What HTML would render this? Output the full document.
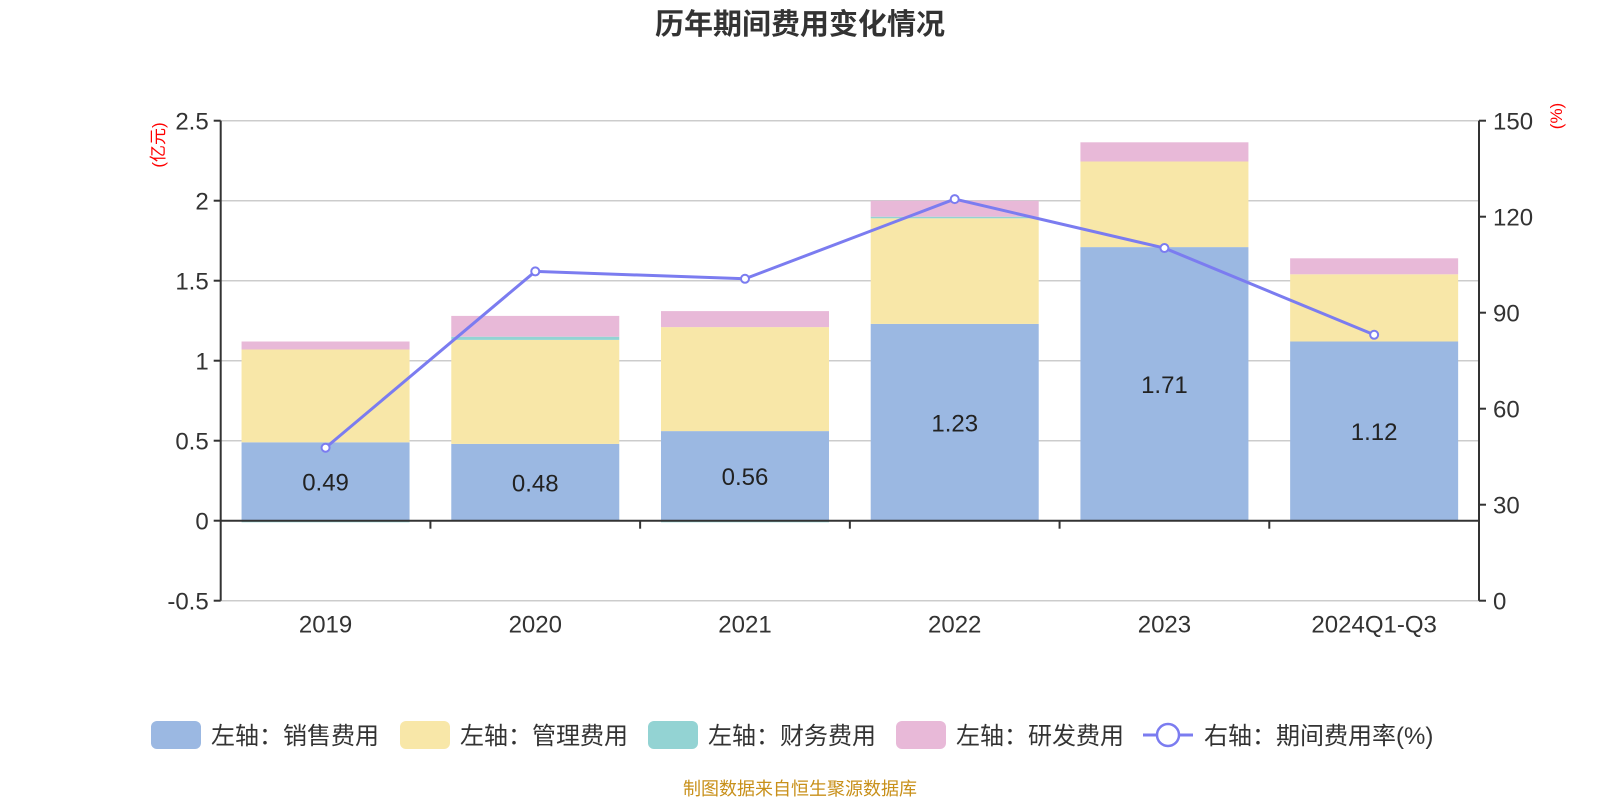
<!DOCTYPE html>
<html><head><meta charset="utf-8"><style>
body{margin:0;background:#fff;width:1600px;height:800px;overflow:hidden;font-family:"Liberation Sans","Noto Sans CJK SC",sans-serif}
svg text{font-family:"Liberation Sans","Noto Sans CJK SC",sans-serif}
</style></head><body>
<svg id="c" width="1600" height="800"></svg>
<script>
const categories=["2019","2020","2021","2022","2023","2024Q1-Q3"];
const sales=[0.49,0.48,0.56,1.23,1.71,1.12];
const admin=[0.58,0.65,0.65,0.66,0.535,0.42];
const finance=[-0.01,0.02,-0.01,0.01,0.0,0.0];
const rnd=[0.05,0.13,0.10,0.10,0.12,0.10];
const rate=[47.8,102.9,100.6,125.5,110.2,83.1];
const leftTicks=[-0.5,0,0.5,1,1.5,2,2.5];
const rightTicks=[0,30,60,90,120,150];

const NS="http://www.w3.org/2000/svg";
const svg=document.getElementById('c');
function el(t,a,txt){const e=document.createElementNS(NS,t);for(const k in a)e.setAttribute(k,a[k]);if(txt!==undefined)e.textContent=txt;svg.appendChild(e);return e;}
const X0=220.7,X1=1479,YT=120.7,YB=600.7;
const cw=(X1-X0)/categories.length;
const yL=v=>YT+(2.5-v)/3*(YB-YT);
const yR=v=>YB-v/150*(YB-YT);
const xc=i=>X0+cw*(i+0.5);

let t=el('text',{x:800,y:34,'text-anchor':'middle','font-size':29,'font-weight':'bold',fill:'#333'},'历年期间费用变化情况');



leftTicks.forEach(v=>{
  const g=el('line',{x1:X0,x2:X1,y1:yL(v),y2:yL(v),stroke:'#ccc','stroke-width':1.5});
  
  
  el('line',{x1:X0-7,x2:X0,y1:yL(v),y2:yL(v),stroke:'#333','stroke-width':2});
  const l=el('text',{x:X0-12,y:yL(v)+9,'text-anchor':'end','font-size':24,fill:'#333'},String(v));
  
  
});
rightTicks.forEach(v=>{
  el('line',{x1:X1,x2:X1+7,y1:yR(v),y2:yR(v),stroke:'#333','stroke-width':2});
  const l=el('text',{x:X1+14,y:yR(v)+9,'font-size':24,fill:'#333'},String(v));
  
  
});

const colors=['#9bb8e2','#f8e7a8','#93d3d3','#e8b9d8'];
const series=[sales,admin,finance,rnd];
categories.forEach((c,i)=>{
  let pos=0,neg=0;const bw=168,bx=xc(i)-bw/2;
  series.forEach((s,k)=>{
    const v=s[i];let a,b;
    if(v>=0){a=pos;b=pos+v;pos=b;}else{a=neg;b=neg+v;neg=b;}
    const r=el('rect',{x:bx,y:Math.min(yL(a),yL(b)),width:bw,height:Math.max(Math.abs(yL(a)-yL(b)),v!==0?1.5:0),fill:colors[k]});
    
    
  });
  const lb=el('text',{x:xc(i),y:(yL(0)+yL(sales[i]))/2+9,'text-anchor':'middle','font-size':24,fill:'#222'},sales[i].toFixed(2));
  
  
  const xl=el('text',{x:xc(i),y:YB+32,'text-anchor':'middle','font-size':24,fill:'#333'},c);
  
  
});
for(let i=1;i<categories.length;i++){el('line',{x1:X0+cw*i,x2:X0+cw*i,y1:yL(0),y2:yL(0)+8,stroke:'#333','stroke-width':2});}
let ax=el('line',{x1:X0,x2:X1,y1:yL(0),y2:yL(0),stroke:'#333','stroke-width':2});


el('line',{x1:X0,x2:X0,y1:YT,y2:YB,stroke:'#333','stroke-width':2});
el('line',{x1:X1,x2:X1,y1:YT,y2:YB,stroke:'#333','stroke-width':2});

const pl=el('polyline',{points:rate.map((v,i)=>xc(i)+','+yR(v)).join(' '),fill:'none',stroke:'#7b7cf0','stroke-width':3});


rate.forEach((v,i)=>{
  const p=el('circle',{cx:xc(i),cy:yR(v),r:4,fill:'#fff',stroke:'#7b7cf0','stroke-width':2});
  
  
});

let u=el('text',{transform:'translate(164,145) rotate(-90)','text-anchor':'middle','font-size':17,fill:'#f00'},'(亿元)');


u=el('text',{transform:'translate(1562,116) rotate(-90)','text-anchor':'middle','font-size':17,fill:'#f00'},'(%)');



const leg=[['左轴：销售费用',151,colors[0]],['左轴：管理费用',400,colors[1]],['左轴：财务费用',648,colors[2]],['左轴：研发费用',896,colors[3]]];
leg.forEach(([s,x,c])=>{
  const r=el('rect',{x:x,y:721,width:50,height:28,rx:6,fill:c});
  
  
  const tx=el('text',{x:x+60,y:744,'font-size':24,fill:'#333'},s);
  
  
});
el('line',{x1:1143,x2:1193,y1:735,y2:735,stroke:'#7b7cf0','stroke-width':3});
el('circle',{cx:1168,cy:735,r:11,fill:'#fff',stroke:'#7b7cf0','stroke-width':2.5});
let lt=el('text',{x:1204,y:744,'font-size':24,fill:'#333'},'右轴：期间费用率(%)');



let f=el('text',{x:800,y:795,'text-anchor':'middle','font-size':18,fill:'#c8901a'},'制图数据来自恒生聚源数据库');


</script>
</body></html>
